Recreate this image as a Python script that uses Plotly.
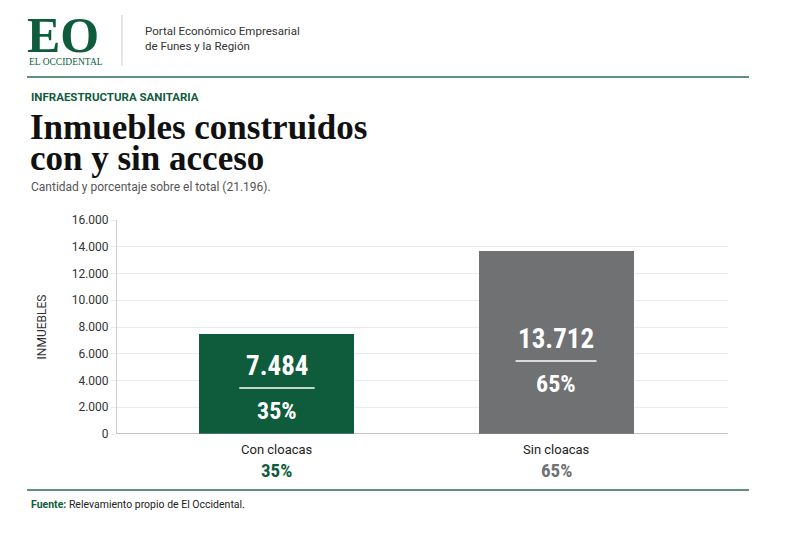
import plotly.graph_objects as go

categories = ["Con cloacas", "Sin cloacas"]
values = [7484, 13712]
value_labels = ["7.484", "13.712"]
pct_labels = ["35%", "65%"]
tick_vals = [0, 2000, 4000, 6000, 8000, 10000, 12000, 14000, 16000]
tick_text = ["0", "2.000", "4.000", "6.000", "8.000", "10.000", "12.000", "14.000", "16.000"]

GREEN = "#0f5c3c"
GREY_BAR = "#6f7173"
bar_colors = [GREEN, GREY_BAR]
pct_colors = [GREEN, GREY_BAR]
# vertical placement (data units) of the divider line inside each bar
divider_y = [3440, 5460]

W, H = 800, 533
L, R, T, B = 117, 728, 220, 434

def px(x):
    return (x - L) / (R - L)

def py(y):
    return (B - y) / (B - T)

COND = "Liberation Sans Narrow, Roboto Condensed, Roboto"

fig = go.Figure()
fig.add_trace(go.Bar(
    x=[0, 1], y=values, marker=dict(color=bar_colors, line=dict(width=0)),
    width=0.555, hoverinfo="skip", showlegend=False,
))

anns = []
shapes = []
for i in range(2):
    dy = divider_y[i]
    anns.append(dict(x=i, y=dy, xref="x", yref="y", text="<b>%s</b>" % value_labels[i],
                     showarrow=False, yshift=22, yanchor="middle",
                     font=dict(family=COND, size=27, color="white")))
    anns.append(dict(x=i, y=dy, xref="x", yref="y", text="<b>%s</b>" % pct_labels[i],
                     showarrow=False, yshift=-23, yanchor="middle",
                     font=dict(family=COND, size=24, color="white")))
    shapes.append(dict(type="line", xref="x", yref="y", x0=i - 0.135 - 0.01 * i, x1=i + 0.135 + 0.01 * i,
                       y0=dy, y1=dy, line=dict(color="white", width=1.5)))
    anns.append(dict(x=i, y=0, xref="x", yref="y", text=categories[i], showarrow=False,
                     yanchor="middle", yshift=-15,
                     font=dict(family="Roboto", size=13, color="#222222")))
    anns.append(dict(x=i, y=0, xref="x", yref="y", text="<b>%s</b>" % pct_labels[i], showarrow=False,
                     yanchor="middle", yshift=-36,
                     font=dict(family=COND, size=19, color=pct_colors[i])))

# header texts
anns += [
    dict(x=px(25), y=py(35), xref="paper", yref="paper", text="<b>EO</b>", showarrow=False,
         xanchor="left", yanchor="middle",
         font=dict(family="Liberation Serif", size=50, color=GREEN)),
    dict(x=px(27), y=py(62), xref="paper", yref="paper", text="EL OCCIDENTAL", showarrow=False,
         xanchor="left", yanchor="middle",
         font=dict(family="Liberation Serif", size=9.5, color=GREEN)),
    dict(x=px(143), y=py(31), xref="paper", yref="paper", text="Portal Económico Empresarial", showarrow=False,
         xanchor="left", yanchor="middle", font=dict(family="Roboto", size=11.5, color="#333333")),
    dict(x=px(143), y=py(46), xref="paper", yref="paper", text="de Funes y la Región", showarrow=False,
         xanchor="left", yanchor="middle", font=dict(family="Roboto", size=11.5, color="#333333")),
    dict(x=px(29), y=py(97), xref="paper", yref="paper", text="<b>INFRAESTRUCTURA SANITARIA</b>", showarrow=False,
         xanchor="left", yanchor="middle", font=dict(family="Roboto", size=11.5, color=GREEN)),
    dict(x=px(28), y=py(128), xref="paper", yref="paper", text="<b>Inmuebles construidos</b>", showarrow=False,
         xanchor="left", yanchor="middle", font=dict(family="Liberation Serif", size=35, color="#111111")),
    dict(x=px(28), y=py(159), xref="paper", yref="paper", text="<b>con y sin acceso</b>", showarrow=False,
         xanchor="left", yanchor="middle", font=dict(family="Liberation Serif", size=35, color="#111111")),
    dict(x=px(29), y=py(187), xref="paper", yref="paper", text="Cantidad y porcentaje sobre el total (21.196).",
         showarrow=False, xanchor="left", yanchor="middle", font=dict(family="Roboto", size=12, color="#555555")),
    dict(x=px(29), y=py(504), xref="paper", yref="paper",
         text="<b><span style='color:%s'>Fuente:</span></b> Relevamiento propio de El Occidental." % GREEN,
         showarrow=False, xanchor="left", yanchor="middle", font=dict(family="Roboto", size=10.5, color="#222222")),
]

shapes += [
    dict(type="line", xref="paper", yref="paper", x0=px(122), x1=px(122), y0=py(15), y1=py(66),
         line=dict(color="#cccccc", width=1)),
    dict(type="line", xref="paper", yref="paper", x0=px(27), x1=px(749), y0=py(77), y1=py(77),
         line=dict(color="#2f6b50", width=1.5)),
    dict(type="line", xref="paper", yref="paper", x0=px(27), x1=px(749), y0=py(490), y1=py(490),
         line=dict(color="#2f6b50", width=1.5)),
    dict(type="line", xref="paper", yref="y", x0=0, x1=1, y0=0, y1=0,
         line=dict(color="#8a8a8a", width=1.2)),
]

fig.update_layout(
    width=W, height=H,
    margin=dict(l=L, r=W - R, t=T, b=H - B, pad=0),
    paper_bgcolor="white", plot_bgcolor="white",
    annotations=anns, shapes=shapes, bargap=0,
    xaxis=dict(range=[-0.573, 1.616], showticklabels=False, showgrid=False, zeroline=False,
               showline=False, fixedrange=True),
    yaxis=dict(range=[0, 16000], tickvals=tick_vals, ticktext=tick_text, showgrid=True,
               gridcolor="#ebebeb", gridwidth=1, zeroline=False, showline=True, linecolor="#cfcfcf",
               linewidth=1, ticks="outside", ticklen=5, tickcolor="#ebebeb",
               tickfont=dict(family="Roboto", size=12, color="#333333"),
               title=dict(text="INMUEBLES", standoff=22,
                          font=dict(family="Roboto", size=12, color="#333333")),
               fixedrange=True),
    font=dict(family="Roboto"),
)

fig.write_html("out.html", config={"displayModeBar": False},
               post_script="document.body.style.margin='0';")
